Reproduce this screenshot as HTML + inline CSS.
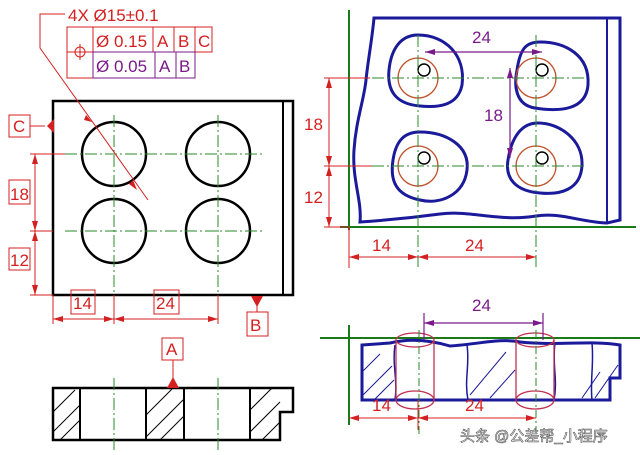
<!DOCTYPE html>
<html><head><meta charset="utf-8"><style>
html,body{margin:0;padding:0;background:#fff;width:640px;height:455px;overflow:hidden}
svg{display:block}
text{font-family:"Liberation Sans","Noto Sans CJK SC",sans-serif}
</style></head><body>
<svg width="640" height="455" viewBox="0 0 640 455" xmlns="http://www.w3.org/2000/svg">
<defs>
<marker id="ar" markerWidth="10" markerHeight="6" refX="10" refY="3" orient="auto-start-reverse" markerUnits="userSpaceOnUse"><path d="M0,0L10,3L0,6z" fill="#d42020"/></marker>
<marker id="ap" markerWidth="10" markerHeight="6" refX="10" refY="3" orient="auto-start-reverse" markerUnits="userSpaceOnUse"><path d="M0,0L10,3L0,6z" fill="#7a1a8a"/></marker>
</defs>
<g fill="none">
<rect x="53" y="101" width="240" height="194" stroke="#000" stroke-width="2.5"/>
<line x1="283" y1="101" x2="283" y2="295" stroke="#000" stroke-width="2"/>
<g stroke="#000" stroke-width="2.5">
<circle cx="114" cy="154" r="32"/><circle cx="218" cy="154" r="32"/>
<circle cx="114" cy="231" r="32"/><circle cx="218" cy="231" r="32"/>
</g>
<g stroke="#2a8a2a" stroke-width="1" stroke-dasharray="12,3,2,3">
<line x1="65" y1="154" x2="262" y2="154"/><line x1="65" y1="231" x2="262" y2="231"/>
<line x1="114" y1="115" x2="114" y2="300"/><line x1="218" y1="115" x2="218" y2="300"/>
</g>
<g stroke="#d42020" stroke-width="1">
<line x1="30" y1="154" x2="65" y2="154"/><line x1="30" y1="231" x2="53" y2="231"/><line x1="30" y1="295" x2="53" y2="295"/>
<line x1="35" y1="154" x2="35" y2="231" marker-start="url(#ar)" marker-end="url(#ar)"/>
<line x1="35" y1="231" x2="35" y2="295" marker-start="url(#ar)" marker-end="url(#ar)"/>
<line x1="53" y1="295" x2="53" y2="324"/><line x1="114" y1="295" x2="114" y2="324"/><line x1="218" y1="295" x2="218" y2="324"/>
<line x1="53" y1="319" x2="114" y2="319" marker-start="url(#ar)" marker-end="url(#ar)"/>
<line x1="114" y1="319" x2="218" y2="319" marker-start="url(#ar)" marker-end="url(#ar)"/>
<rect x="9" y="180" width="21" height="24"/><rect x="9" y="248" width="21" height="22"/>
<rect x="71" y="290" width="24" height="24"/><rect x="154" y="290" width="25" height="24"/>
<rect x="9" y="115" width="21" height="22"/><line x1="30" y1="126" x2="45" y2="126"/>
<rect x="247" y="312" width="21" height="24"/><line x1="257" y1="297" x2="257" y2="312"/>
<polyline points="65,14 40,14 40,48 148,200"/>
<rect x="67" y="27" width="145" height="25"/><rect x="67" y="27" width="26" height="51"/>
<line x1="153" y1="27" x2="153" y2="52"/><line x1="174" y1="27" x2="174" y2="52"/><line x1="195" y1="27" x2="195" y2="52"/>
<circle cx="80" cy="52" r="5"/><line x1="72" y1="52" x2="88" y2="52"/><line x1="80" y1="44" x2="80" y2="60"/>
</g>
<g stroke="#7a1a8a" stroke-width="1">
<rect x="93" y="52" width="102" height="26"/><line x1="155" y1="52" x2="155" y2="78"/><line x1="176" y1="52" x2="176" y2="78"/>
</g>
<path d="M47,126 L54,119 L54,133z" fill="#d42020"/>
<path d="M251,296 L263,296 L257,307z" fill="#d42020"/>
<path d="M86,115 L92,122 L84,120z M133,180 L137,190 L129,184z" fill="#d42020"/>

<g stroke="#000" stroke-width="1">
<line x1="53" y1="412" x2="75" y2="390"/><line x1="53" y1="432" x2="80" y2="405"/><line x1="60" y1="440" x2="80" y2="420"/>
<line x1="146" y1="415" x2="172" y2="389"/><line x1="146" y1="437" x2="184" y2="399"/><line x1="160" y1="440" x2="184" y2="416"/>
<line x1="250" y1="410" x2="272" y2="388"/><line x1="250" y1="432" x2="280" y2="402"/><line x1="262" y1="440" x2="280" y2="422"/>
</g>
<path d="M53,388 L293,388 L293,412 L280,412 L280,440 L53,440 Z" stroke="#000" stroke-width="2.5"/>
<g stroke="#000" stroke-width="2"><line x1="80" y1="388" x2="80" y2="440"/><line x1="146" y1="388" x2="146" y2="440"/><line x1="184" y1="388" x2="184" y2="440"/><line x1="250" y1="388" x2="250" y2="440"/></g>
<g stroke="#2a8a2a" stroke-width="1" stroke-dasharray="12,3,2,3"><line x1="114" y1="378" x2="114" y2="452"/><line x1="218" y1="378" x2="218" y2="452"/></g>
<rect x="162" y="338" width="21" height="22" stroke="#d42020"/><line x1="173" y1="360" x2="173" y2="378" stroke="#d42020"/>
<path d="M167,388 L179,388 L173,377z" fill="#d42020"/>

<line x1="349" y1="10" x2="349" y2="230" stroke="#1a7a1a" stroke-width="2"/>
<line x1="340" y1="227" x2="636" y2="227" stroke="#1a7a1a" stroke-width="2"/>
<path d="M374,18 L620,18 L620,220 L607,223 C580,222 560,212 536,216 C500,222 470,210 440,214 C410,218 390,220 360,222 C362,200 352,180 354,150 C356,120 364,100 366,80 C368,60 372,40 374,18 Z" stroke="#1a1a9a" stroke-width="3"/>
<line x1="607" y1="18" x2="607" y2="222" stroke="#1a1a9a" stroke-width="2"/>
<g stroke="#1a1a9a" stroke-width="3">
<path d="M418,35 C445,35 466,55 462,85 C458,105 440,108 420,106 C395,104 387,90 389,70 C391,50 400,35 418,35Z"/>
<path d="M540,42 C565,42 590,55 588,85 C586,110 560,112 535,108 C515,105 514,85 517,70 C520,50 525,42 540,42Z"/>
<path d="M420,132 C445,132 470,145 467,170 C464,195 440,205 420,200 C395,195 390,180 393,160 C396,140 405,132 420,132Z"/>
<path d="M538,123 C560,123 583,140 582,165 C581,190 560,195 540,193 C515,191 505,178 508,160 C511,140 520,123 538,123Z"/>
</g>
<g stroke="#c0502a" stroke-width="1.3">
<circle cx="418" cy="78" r="20"/><circle cx="536" cy="78" r="20"/><circle cx="418" cy="166" r="20"/><circle cx="536" cy="166" r="20"/>
</g>
<g stroke="#000" stroke-width="1.5">
<circle cx="424" cy="70" r="6"/><circle cx="542" cy="70" r="6"/><circle cx="424" cy="158" r="6"/><circle cx="542" cy="158" r="6"/>
</g>
<g stroke="#2a8a2a" stroke-width="1" stroke-dasharray="12,3,2,3">
<line x1="372" y1="78" x2="586" y2="78"/><line x1="372" y1="166" x2="586" y2="166"/>
<line x1="418" y1="35" x2="418" y2="268"/><line x1="536" y1="35" x2="536" y2="268"/>
</g>
<g stroke="#d42020" stroke-width="1">
<line x1="324" y1="78" x2="370" y2="78"/><line x1="324" y1="166" x2="372" y2="166"/><line x1="324" y1="227" x2="349" y2="227"/>
<line x1="329" y1="78" x2="329" y2="166" marker-start="url(#ar)" marker-end="url(#ar)"/>
<line x1="329" y1="166" x2="329" y2="227" marker-start="url(#ar)" marker-end="url(#ar)"/>
<line x1="349" y1="227" x2="349" y2="268"/>
<line x1="349" y1="257" x2="418" y2="257" marker-start="url(#ar)" marker-end="url(#ar)"/>
<line x1="418" y1="257" x2="536" y2="257" marker-start="url(#ar)" marker-end="url(#ar)"/>
</g>
<g stroke="#7a1a8a" stroke-width="1.2">
<line x1="425" y1="52" x2="542" y2="52" marker-start="url(#ap)" marker-end="url(#ap)"/>
<line x1="510" y1="68" x2="510" y2="158" marker-start="url(#ap)" marker-end="url(#ap)"/>
</g>

<line x1="320" y1="338" x2="640" y2="338" stroke="#1a7a1a" stroke-width="2"/>
<line x1="349" y1="325" x2="349" y2="425" stroke="#1a7a1a" stroke-width="2"/>
<g stroke="#1a1a9a" stroke-width="1">
<line x1="362" y1="372" x2="380" y2="354"/><line x1="362" y1="396" x2="392" y2="366"/><line x1="374" y1="400" x2="394" y2="380"/>
<line x1="470" y1="395" x2="506" y2="352"/><line x1="490" y1="398" x2="515" y2="370"/>
<line x1="595" y1="398" x2="618" y2="365"/><line x1="582" y1="398" x2="600" y2="372"/>
</g>
<path d="M362,345 L390,343 C410,338 430,340 450,346 C480,344 500,338 520,342 C560,346 590,340 620,345 L620,378 L610,378 L610,400 L362,400 Z" stroke="#1a1a9a" stroke-width="3"/>
<g stroke="#1a1a9a" stroke-width="1.5">
<path d="M395,345 C392,365 398,380 395,400"/><path d="M467,345 C470,365 464,380 468,400"/>
<path d="M555,343 C552,365 558,380 554,400"/><path d="M592,343 C594,365 590,380 592,400"/>
</g>
<g stroke="#c03050" stroke-width="1.3">
<ellipse cx="415" cy="340" rx="19" ry="7"/><ellipse cx="415" cy="400" rx="19" ry="9"/>
<line x1="396" y1="340" x2="396" y2="400"/><line x1="434" y1="340" x2="434" y2="400"/>
<ellipse cx="535" cy="340" rx="19" ry="7"/><ellipse cx="535" cy="400" rx="19" ry="9"/>
<line x1="516" y1="340" x2="516" y2="400"/><line x1="554" y1="340" x2="554" y2="400"/>
</g>
<g stroke="#2a8a2a" stroke-width="1" stroke-dasharray="8,3,2,3"><line x1="419" y1="330" x2="419" y2="435"/><line x1="536" y1="330" x2="536" y2="435"/></g>
<g stroke="#7a1a8a" stroke-width="1.2">
<line x1="424" y1="313" x2="424" y2="340"/><line x1="543" y1="313" x2="543" y2="340"/>
<line x1="424" y1="323" x2="543" y2="323" marker-start="url(#ap)" marker-end="url(#ap)"/>
</g>
<g stroke="#d42020" stroke-width="1">
<line x1="418" y1="400" x2="418" y2="430"/>
<line x1="349" y1="418" x2="418" y2="418" marker-start="url(#ar)" marker-end="url(#ar)"/>
<line x1="418" y1="418" x2="536" y2="418" marker-start="url(#ar)" marker-end="url(#ar)"/>
</g>
</g>

<g font-size="17" fill="#d42020">
<text x="68" y="21">4X Ø15±0.1</text>
<text x="96" y="47">Ø 0.15</text><text x="157" y="47">A</text><text x="178" y="47">B</text><text x="198" y="47">C</text>
<text x="13" y="132">C</text><text x="250" y="331">B</text><text x="166" y="355">A</text>
<text x="10" y="200">18</text><text x="10" y="266">12</text>
<text x="73" y="309">14</text><text x="156" y="309">24</text>
<text x="304" y="130">18</text><text x="304" y="203">12</text>
<text x="372" y="251">14</text><text x="465" y="251">24</text>
<text x="372" y="411">14</text><text x="465" y="411">24</text>
</g>
<g font-size="17" fill="#7a1a8a">
<text x="96" y="72">Ø 0.05</text><text x="159" y="72">A</text><text x="179" y="72">B</text>
<text x="472" y="43">24</text><text x="484" y="121">18</text><text x="472" y="311">24</text>
</g>
<text x="460" y="441" font-size="15" fill="#fff" stroke="#555" stroke-width="0.6">头条 @公差帮_小程序</text>
</svg>
</body></html>
